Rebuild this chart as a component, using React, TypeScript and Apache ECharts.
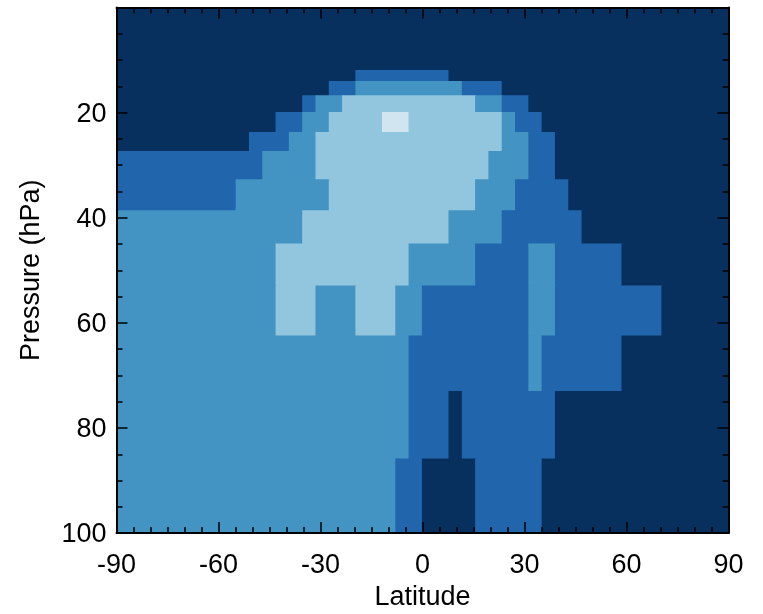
import React, { useEffect, useRef } from "react";
import * as echarts from "echarts";

// Pressure cell edges (hPa), top to bottom
const pressureEdges = [0, 12, 14.1, 16.8, 20, 23.8, 27.4, 32.8, 38.7, 45, 53, 62.5, 73.1, 85.9, 100];
// Latitude grid: 46 equal cells from -90 to 90
const nLat = 46;
const latEdges = Array.from({ length: nLat + 1 }, (_, k) => -90 + (k * 180) / nLat);

// Colour levels (0 = darkest)
const levelColors = ["#08305f", "#2166ac", "#4393c3", "#92c5de", "#d1e5f0"];

// Each row (pressure layer, top to bottom) as runs of [level, number of latitude cells]
const levelRuns: number[][][] = [
  [[0, 46]],
  [[0, 18], [1, 7], [0, 21]],
  [[0, 16], [1, 2], [2, 8], [1, 3], [0, 17]],
  [[0, 14], [1, 1], [2, 2], [3, 10], [2, 2], [1, 2], [0, 15]],
  [[0, 12], [1, 2], [2, 2], [3, 4], [4, 2], [3, 7], [2, 1], [1, 2], [0, 14]],
  [[0, 10], [1, 3], [2, 2], [3, 14], [2, 2], [1, 2], [0, 13]],
  [[1, 11], [2, 4], [3, 13], [2, 3], [1, 2], [0, 13]],
  [[1, 9], [2, 7], [3, 11], [2, 3], [1, 4], [0, 12]],
  [[2, 14], [3, 11], [2, 4], [1, 6], [0, 11]],
  [[2, 12], [3, 10], [2, 5], [1, 4], [2, 2], [1, 5], [0, 8]],
  [[2, 12], [3, 3], [2, 3], [3, 3], [2, 2], [1, 8], [2, 2], [1, 8], [0, 5]],
  [[2, 22], [1, 9], [2, 1], [1, 6], [0, 8]],
  [[2, 22], [1, 3], [0, 1], [1, 7], [0, 13]],
  [[2, 21], [1, 2], [0, 4], [1, 5], [0, 14]],
];

const xTicks = [-90, -60, -30, 0, 30, 60, 90];
const yTicks = [0, 20, 40, 60, 80, 100];

export default function App() {
  const ref = useRef<HTMLDivElement>(null);
  useEffect(() => {
    if (!ref.current) return;
    const chart = echarts.init(ref.current, undefined, { renderer: "svg" });

    const data: number[][] = [];
    levelRuns.forEach((runs, r) => {
      let c = 0;
      runs.forEach(([lvl, n]) => {
        data.push([latEdges[c], latEdges[c + n], pressureEdges[r], pressureEdges[r + 1], lvl]);
        c += n;
      });
    });

    const font = "Liberation Sans, Arial, sans-serif";
    const axisLine = { show: true, onZero: false, lineStyle: { color: "#000", width: 2 } };
    const tick = { show: true, inside: true, length: 11, lineStyle: { color: "#000", width: 1.5 } };
    const xMinor = { show: true, splitNumber: 6, length: 6, lineStyle: { color: "#000", width: 1.5 } };
    const yMinor = { show: true, splitNumber: 4, length: 6, lineStyle: { color: "#000", width: 1.5 } };

    chart.setOption({
      animation: false,
      grid: { left: 116.5, right: 34.5, top: 7.5, bottom: 80.5 },
      xAxis: [
        {
          type: "value",
          min: xTicks[0],
          max: xTicks[xTicks.length - 1],
          interval: 30,
          position: "bottom",
          z: 10,
          axisLine,
          axisTick: tick,
          minorTick: xMinor,
          splitLine: { show: false },
          axisLabel: { fontSize: 27, color: "#000", margin: 17, fontFamily: font },
          name: "Latitude",
          nameLocation: "middle",
          nameGap: 46,
          nameTextStyle: { fontSize: 27, color: "#000", fontFamily: font },
        },
        {
          type: "value",
          min: xTicks[0],
          max: xTicks[xTicks.length - 1],
          interval: 30,
          position: "top",
          z: 10,
          axisLine,
          axisTick: tick,
          minorTick: xMinor,
          splitLine: { show: false },
          axisLabel: { show: false },
        },
      ],
      yAxis: [
        {
          type: "value",
          inverse: true,
          min: yTicks[0],
          max: yTicks[yTicks.length - 1],
          interval: 20,
          position: "left",
          z: 10,
          axisLine,
          axisTick: tick,
          minorTick: yMinor,
          splitLine: { show: false },
          axisLabel: { fontSize: 27, color: "#000", margin: 10, fontFamily: font, showMinLabel: false },
          name: "Pressure (hPa)",
          nameLocation: "middle",
          nameRotate: 90,
          nameGap: 73,
          nameTextStyle: { fontSize: 27, color: "#000", fontFamily: font },
        },
        {
          type: "value",
          inverse: true,
          min: yTicks[0],
          max: yTicks[yTicks.length - 1],
          interval: 20,
          position: "right",
          z: 10,
          axisLine,
          axisTick: tick,
          minorTick: yMinor,
          splitLine: { show: false },
          axisLabel: { show: false },
        },
      ],
      series: [
        {
          type: "custom",
          coordinateSystem: "cartesian2d",
          xAxisIndex: 0,
          yAxisIndex: 0,
          z: 1,
          clip: true,
          dimensions: ["lat0", "lat1", "p0", "p1", "level"],
          encode: { x: [0, 1], y: [2, 3] },
          data,
          renderItem: (params: any, api: any) => {
            const a = api.coord([api.value(0), api.value(2)]);
            const b = api.coord([api.value(1), api.value(3)]);
            const col = levelColors[api.value(4)];
            const pad = 0.6;
            return {
              type: "rect",
              shape: {
                x: Math.min(a[0], b[0]) - pad,
                y: Math.min(a[1], b[1]) - pad,
                width: Math.abs(b[0] - a[0]) + 2 * pad,
                height: Math.abs(b[1] - a[1]) + 2 * pad,
              },
              style: { fill: col, stroke: null, lineWidth: 0 },
            };
          },
        },
      ],
    });
    return () => chart.dispose();
  }, []);
  return <div ref={ref} style={{ position: "fixed", left: 0, top: 0, width: 763, height: 614 }} />;
}
